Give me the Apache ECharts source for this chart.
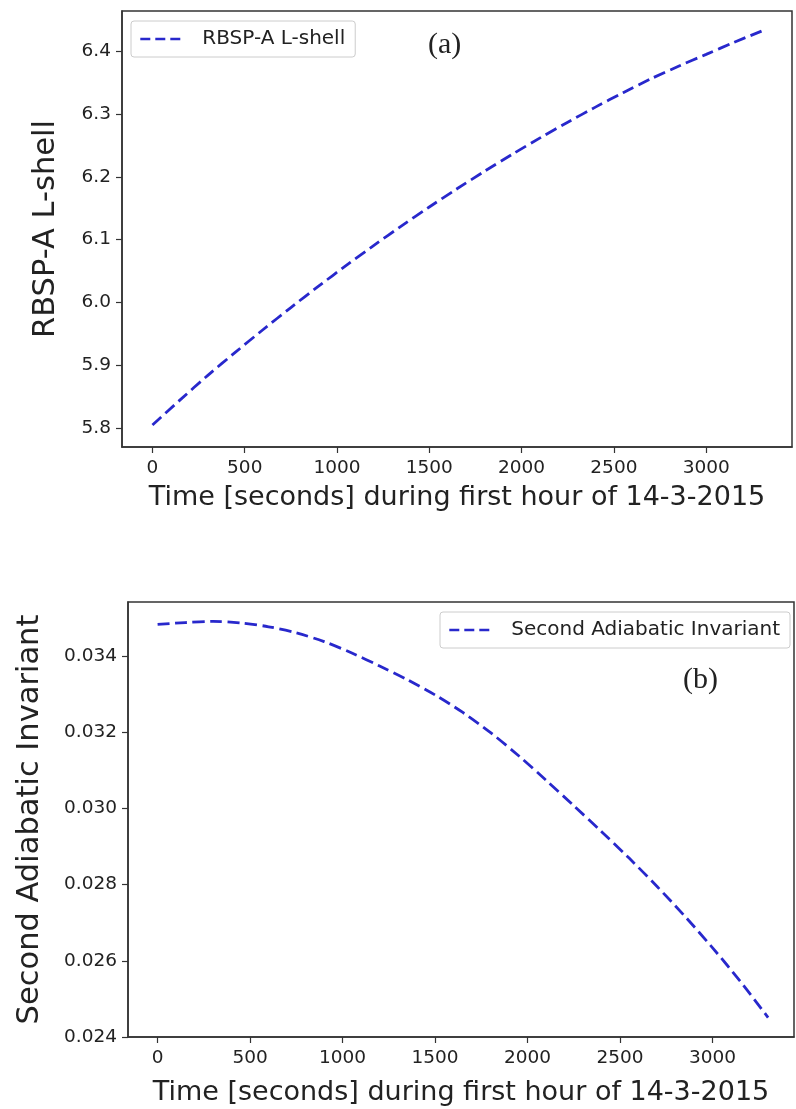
<!DOCTYPE html>
<html>
<head>
<meta charset="utf-8">
<script src="https://cdn.jsdelivr.net/npm/echarts@6/dist/echarts.min.js"></script>
<style>
  html, body { margin: 0; padding: 0; background: #ffffff; }
  #chart { width: 796px; height: 1109px; }
</style>
</head>
<body>
<div id="chart"></div>
<script>
// ---- data ----
const timeSec = [0, 150, 300, 450, 600, 750, 900, 1050, 1200, 1350, 1500, 1650,
                 1800, 1950, 2100, 2250, 2400, 2550, 2700, 2850, 3000, 3150, 3300];
const lShell = [5.805, 5.845, 5.884, 5.921, 5.957, 5.992, 6.026, 6.059, 6.091, 6.122, 6.152, 6.181,
                6.209, 6.236, 6.262, 6.287, 6.311, 6.334, 6.356, 6.376, 6.395, 6.414, 6.432];
const secondInvariant = [0.03483, 0.03488, 0.03491, 0.03487, 0.03477, 0.03461, 0.03438, 0.03408,
                         0.03374, 0.03338, 0.03298, 0.03252, 0.03199, 0.03139, 0.03074, 0.03007,
                         0.02939, 0.02869, 0.02795, 0.02717, 0.02634, 0.02546, 0.02451];
const timeTicks = [0, 500, 1000, 1500, 2000, 2500, 3000];
const lShellTicks = [5.8, 5.9, 6.0, 6.1, 6.2, 6.3, 6.4];
const invariantTicks = [0.024, 0.026, 0.028, 0.030, 0.032, 0.034];
const seriesNames = ['RBSP-A L-shell', 'Second Adiabatic Invariant'];
const xTitle = 'Time [seconds] during first hour of 14-3-2015';

const lShellData = timeSec.map((t, i) => [t, lShell[i]]);
const invData = timeSec.map((t, i) => [t, secondInvariant[i]]);

const SANS = 'DejaVu Sans';
const INK = '#222222';
const LINE = '#2828cc';

function xAxisCfg(gridIndex, min, max) {
  return {
    type: 'value', gridIndex, min, max,
    name: xTitle, nameLocation: 'middle',
    nameGap: gridIndex === 0 ? 37 : 42,
    nameTextStyle: { fontFamily: SANS, fontSize: 27, color: INK },
    axisLine: { show: true, onZero: false, lineStyle: { color: '#333', width: 1.5 } },
    axisTick: { show: true, inside: false, length: 6, customValues: timeTicks, lineStyle: { color: '#333', width: 1.2 } },
    axisLabel: { customValues: timeTicks, margin: 12, fontFamily: SANS, fontSize: 18.5, color: INK, formatter: v => String(Math.round(v)) },
    splitLine: { show: false }
  };
}
function yAxisCfg(gridIndex, min, max, ticks, digits, name, gap) {
  return {
    type: 'value', gridIndex, min, max,
    name, nameLocation: 'middle', nameGap: gap,
    nameTextStyle: { fontFamily: SANS, fontSize: 30.5, color: INK },
    axisLine: { show: true, onZero: false, lineStyle: { color: '#333', width: 1.5 } },
    axisTick: { show: true, inside: false, length: 6, customValues: ticks, lineStyle: { color: '#333', width: 1.2 } },
    axisLabel: { customValues: ticks, margin: 11, fontFamily: SANS, fontSize: 18.5, color: INK, formatter: v => v.toFixed(digits) },
    splitLine: { show: false }
  };
}
function legendCfg(name, left, top) {
  return {
    data: [name], left, top, orient: 'horizontal',
    itemWidth: 40, itemHeight: 14,
    padding: [8, 10, 8, 8],
    backgroundColor: '#ffffff', borderColor: '#cccccc', borderWidth: 1, borderRadius: 3,
    itemStyle: { color: 'rgba(0,0,0,0)', borderColor: 'rgba(0,0,0,0)', borderWidth: 0, opacity: 0 },
    lineStyle: { color: LINE, width: 2.6, type: [10, 5] },
    textStyle: { fontFamily: SANS, fontSize: 20, color: INK, padding: [0, 0, 0, 17] },
    selectedMode: false
  };
}

const chart = echarts.init(document.getElementById('chart'), null, { renderer: 'canvas' });
chart.setOption({
  backgroundColor: '#ffffff',
  animation: false,
  grid: [
    { left: 122, top: 11, right: 4, bottom: 662, show: true, borderColor: '#333', borderWidth: 1.5, backgroundColor: 'transparent', outerBoundsMode: 'none' },
    { left: 128, top: 602, right: 2, bottom: 72, show: true, borderColor: '#333', borderWidth: 1.5, backgroundColor: 'transparent', outerBoundsMode: 'none' }
  ],
  xAxis: [ xAxisCfg(0, -165, 3465), xAxisCfg(1, -160, 3440) ],
  yAxis: [
    yAxisCfg(0, 5.770, 6.464, lShellTicks, 1, seriesNames[0], 60),
    yAxisCfg(1, 0.024, 0.03542, invariantTicks, 3, seriesNames[1], 82)
  ],
  legend: [ legendCfg(seriesNames[0], 131, 21), legendCfg(seriesNames[1], 440, 612) ],
  series: [
    {
      name: seriesNames[0], type: 'line', xAxisIndex: 0, yAxisIndex: 0,
      data: lShellData, smooth: 0.3, symbol: 'none',
      lineStyle: { color: LINE, width: 2.8, type: [12, 5.5] },
      itemStyle: { color: LINE }
    },
    {
      name: seriesNames[1], type: 'line', xAxisIndex: 1, yAxisIndex: 1,
      data: invData, smooth: 0.3, symbol: 'none',
      lineStyle: { color: LINE, width: 2.8, type: [12, 5.5] },
      itemStyle: { color: LINE }
    }
  ],
  graphic: [
    { type: 'text', left: 428, top: 30, style: { text: '(a)', font: '30px "Liberation Serif"', fill: INK } },
    { type: 'text', left: 683, top: 665, style: { text: '(b)', font: '30px "Liberation Serif"', fill: INK } }
  ]
});
</script>
</body>
</html>
